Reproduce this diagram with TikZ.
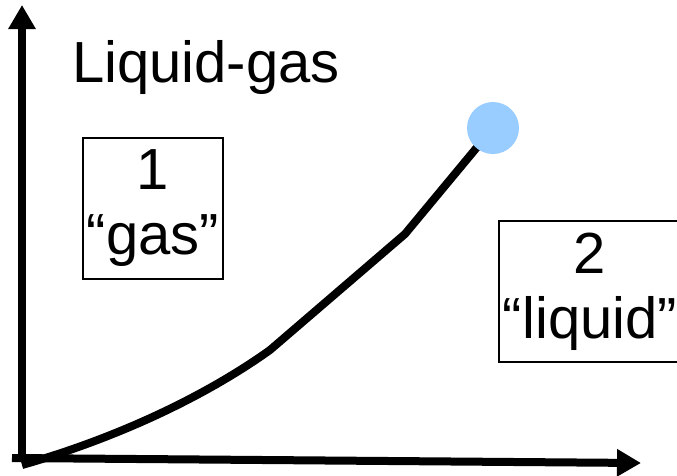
\documentclass[tikz,border=0pt]{standalone}
\usepackage{fontspec}
\setmainfont{Liberation Sans}
\usetikzlibrary{arrows.meta}
\definecolor{critblue}{RGB}{153,204,255}
\begin{document}
\begin{tikzpicture}[x=1pt,y=-1pt,>={Triangle[width=26pt,length=24pt]},font=\fontsize{58}{65}\selectfont]
        \useasboundingbox (0,0) rectangle (677,475);
        \coordinate (o) at (22,462);
        \coordinate (ytip) at (22,5);
        \coordinate (xstart) at (12,458);
        \coordinate (xtip) at (641,463);
        \coordinate (kinka) at (270,350);
        \coordinate (kinkb) at (405,234);
        \coordinate (cp) at (493,128);

        \draw[->,line width=8pt] (o) -- (ytip);
        \draw[->,line width=8pt] (xstart) -- (xtip);

        \node (title) [anchor=base west, inner sep=0pt] at (72,82) {Liquid-gas};
        \node (gas) [draw, line width=2pt, minimum width=140pt, minimum height=141pt, align=center, inner sep=0pt] at (153,208.5) {1\\“gas”};
        \node (liquid) [draw, line width=2pt, minimum width=182pt, minimum height=141pt, align=center, inner sep=0pt] at (590,291.5) {2\\“liquid”};

        % coexistence line up to the critical point
        \draw[line width=8pt] ([yshift=-3pt]o) .. controls (110,440) and (200,400) .. (kinka) -- (kinkb) -- (cp);
        \node (crit) [circle, fill=critblue, minimum size=52pt, inner sep=0pt] at (cp) {};
      \end{tikzpicture}
\end{document}
